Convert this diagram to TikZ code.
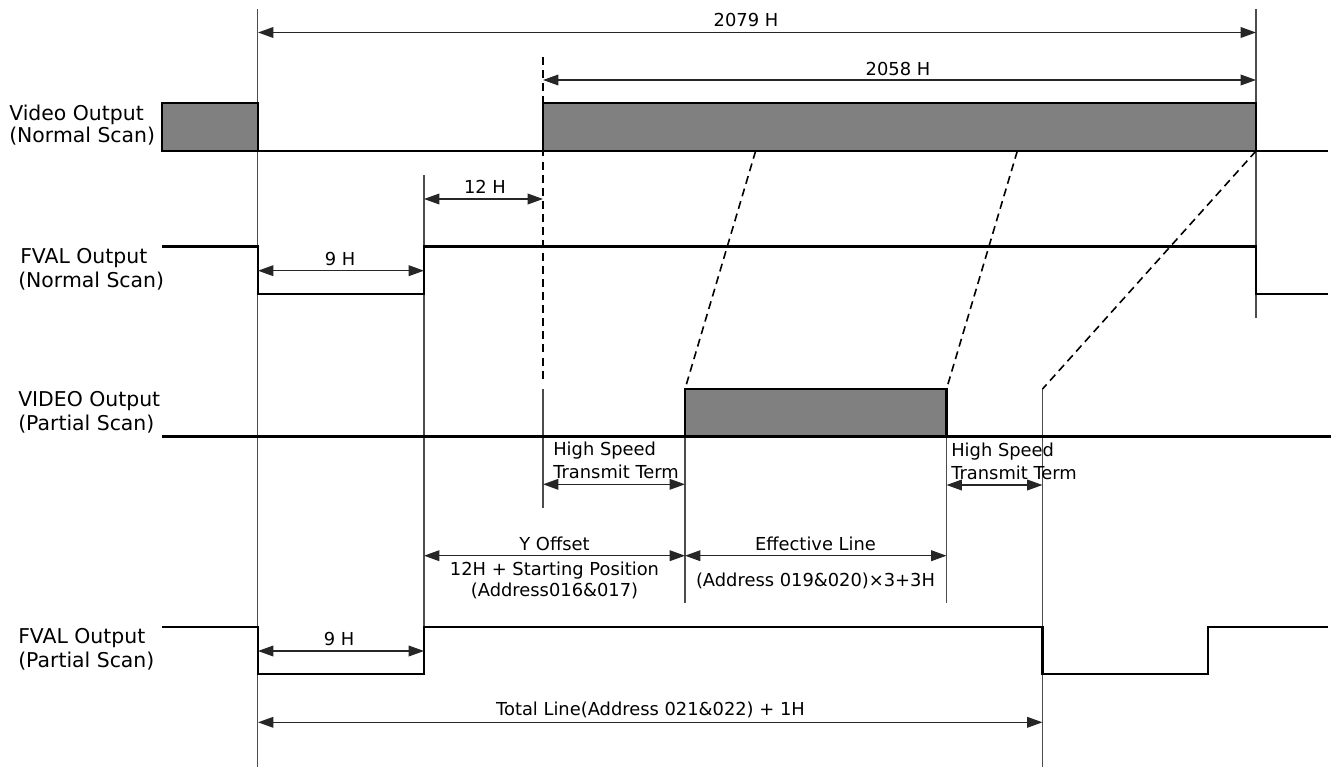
\documentclass[tikz,border=0pt]{standalone}
\usepackage{fontspec}
\setmainfont{DejaVu Sans}
\usetikzlibrary{arrows.meta}
\begin{document}
\begin{tikzpicture}[x=0.75pt,y=-0.75pt,
  sig/.style={line width=1.7pt,black,line join=miter},
  box/.style={line width=1.7pt,black,fill=gray50},
  guide/.style={line width=0.8pt,black!70},
  dashguide/.style={line width=1.2pt,black,dash pattern=on 6pt off 3.8pt},
  dim/.style={line width=1.05pt,black!85,{Triangle[length=11.5pt,width=8pt]}-{Triangle[length=11.5pt,width=8pt]}},
  biglbl/.style={inner sep=0pt,anchor=base west,font=\fontsize{15.3}{18}\selectfont},
  lbl/.style={inner sep=0pt,anchor=base,font=\fontsize{13.4}{16}\selectfont},
  lbll/.style={inner sep=0pt,anchor=base west,font=\fontsize{13.4}{16}\selectfont}]
\definecolor{gray50}{HTML}{808080}
\useasboundingbox (0,0) rectangle (1333,767);

% ---------- left labels ----------
\node[biglbl] (vn1) at (9,120.7) {Video Output};
\node[biglbl] (vn2) at (9,142) {(Normal Scan)};
\node[biglbl] (fn1) at (20,263.3) {FVAL Output};
\node[biglbl] (fn2) at (18,287.3) {(Normal Scan)};
\node[biglbl] (vp1) at (18,406.7) {VIDEO Output};
\node[biglbl] (vp2) at (18,430) {(Partial Scan)};
\node[biglbl] (fp1) at (18,643.3) {FVAL Output};
\node[biglbl] (fp2) at (18,667) {(Partial Scan)};

% ---------- guide lines ----------
\coordinate (gAt) at (257.5,9);   \coordinate (gAb) at (257.5,767);
\coordinate (gBt) at (1256,9);    \coordinate (gBb) at (1256,318);
\coordinate (gCt) at (424,175);   \coordinate (gCb) at (424,674);
\coordinate (gDt) at (543,389);   \coordinate (gDb) at (543,508);
\coordinate (gEt) at (685,389);   \coordinate (gEb) at (685,603);
\coordinate (gFt) at (946.5,389); \coordinate (gFb) at (946.5,603);
\coordinate (gGt) at (1042.5,389);\coordinate (gGb) at (1042.5,767);
\draw[guide] (gAt) -- (gAb);
\draw[guide] (gBt) -- (gBb);
\draw[guide] (gCt) -- (gCb);
\draw[guide] (gDt) -- (gDb);
\draw[guide] (gEt) -- (gEb);
\draw[guide] (gFt) -- (gFb);
\draw[guide] (gGt) -- (gGb);

% ---------- dashed lines ----------
\coordinate (d0t) at (543,57);     \coordinate (d0b) at (543,383);
\coordinate (d1t) at (755.6,151);  \coordinate (d1b) at (685,389);
\coordinate (d2t) at (1017.3,151); \coordinate (d2b) at (946.5,389);
\coordinate (d3t) at (1256,151);   \coordinate (d3b) at (1042.5,389);
\draw[dashguide] (d0t) -- (d0b);
\draw[dashguide] (d1t) -- (d1b);
\draw[dashguide] (d2t) -- (d2b);
\draw[dashguide] (d3t) -- (d3b);

% ---------- Video output (normal) ----------
\draw[box] (162,103) rectangle (258,151);
\draw[box] (543,103) rectangle (1256,151);
\draw[sig] (258,151) -- (543,151);
\draw[sig] (1256,151) -- (1328,151);

% ---------- FVAL (normal) ----------
\draw[sig] (162,246.5) -- (258,246.5) -- (258,294) -- (424,294) -- (424,246.5)
  -- (1256,246.5) -- (1256,294) -- (1328,294);

% ---------- VIDEO (partial) ----------
\draw[sig] (162,436.5) -- (1331,436.5);
\draw[box] (685,389) rectangle (946.5,436.5);

% ---------- FVAL (partial) ----------
\draw[sig] (162,626.7) -- (258,626.7) -- (258,674) -- (424,674) -- (424,626.7)
  -- (1042.5,626.7) -- (1042.5,674) -- (1208,674) -- (1208,626.7) -- (1328,626.7);

% ---------- dimension arrows ----------
\coordinate (a1l) at (258,32.5);   \coordinate (a1r) at (1256,32.5);
\coordinate (a2l) at (543,80);     \coordinate (a2r) at (1256,80);
\coordinate (a3l) at (424,199);    \coordinate (a3r) at (543,199);
\coordinate (a4l) at (258,270.7);  \coordinate (a4r) at (424,270.7);
\coordinate (a5l) at (543,484.3);  \coordinate (a5r) at (685,484.3);
\coordinate (a6l) at (946.5,485);  \coordinate (a6r) at (1042.5,485);
\coordinate (a7l) at (424,555.7);  \coordinate (a7r) at (685,555.7);
\coordinate (a8l) at (685,555.7);  \coordinate (a8r) at (946.5,555.7);
\coordinate (a9l) at (258,651);    \coordinate (a9r) at (424,651);
\coordinate (a10l) at (258,722.3); \coordinate (a10r) at (1042.5,722.3);
\draw[dim] (a1l) -- (a1r);
\draw[dim] (a2l) -- (a2r);
\draw[dim] (a3l) -- (a3r);
\draw[dim] (a4l) -- (a4r);
\draw[dim] (a5l) -- (a5r);
\draw[dim] (a6l) -- (a6r);
\draw[dim] (a7l) -- (a7r);
\draw[dim] (a8l) -- (a8r);
\draw[dim] (a9l) -- (a9r);
\draw[dim] (a10l) -- (a10r);

% ---------- dimension labels ----------
\node[lbl] (t2079) at (746,26.7) {2079 H};
\node[lbl] (t2058) at (898,75) {2058 H};
\node[lbl] (t12) at (485,193) {12 H};
\node[lbl] (t9a) at (340,265) {9 H};
\node[lbl] (t9b) at (339,645) {9 H};
\node[lbll] (hs1a) at (553,455) {High Speed};
\node[lbll] (hs1b) at (553,478) {Transmit Term};
\node[lbll] (hs2a) at (951,456) {High Speed};
\node[lbll] (hs2b) at (951,479) {Transmit Term};
\node[lbl] (yo1) at (554.5,550) {Y Offset};
\node[lbl] (yo2) at (554.5,575) {12H + Starting Position};
\node[lbl] (yo3) at (554.5,596) {(Address016\&017)};
\node[lbl] (ef1) at (815.5,550) {Effective Line};
\node[lbl] (ef2) at (815.5,586) {(Address 019\&020)×3+3H};
\node[lbl] (tot) at (650.5,715.5) {Total Line(Address 021\&022) + 1H};
\end{tikzpicture}
\end{document}
